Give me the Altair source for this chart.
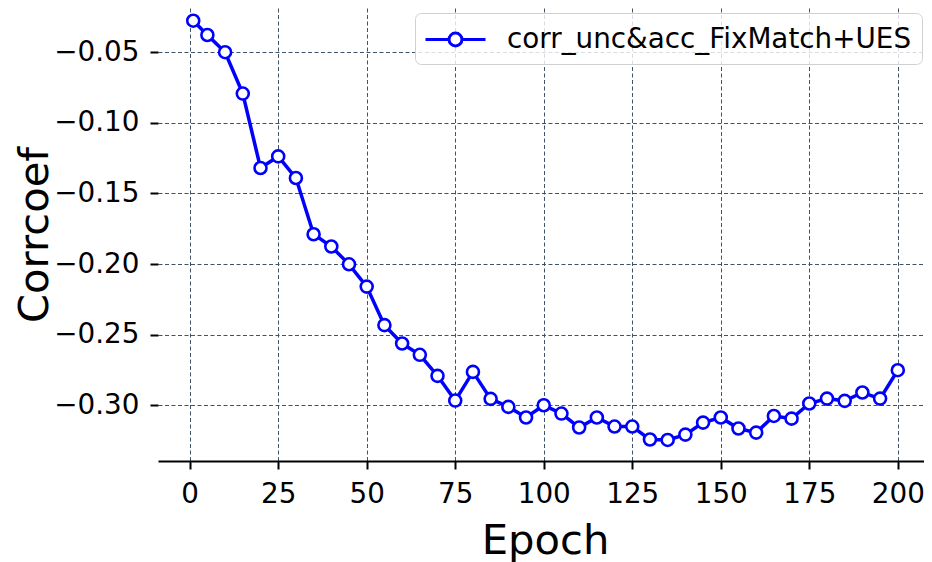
import altair as alt
import pandas as pd

epochs = [1, 5, 10, 15, 20, 25, 30, 35, 40, 45, 50, 55, 60, 65, 70, 75, 80, 85, 90, 95,
          100, 105, 110, 115, 120, 125, 130, 135, 140, 145, 150, 155, 160, 165, 170, 175,
          180, 185, 190, 195, 200]
corr = [-0.0277, -0.0378, -0.0500, -0.0793, -0.1320, -0.1238, -0.1391, -0.1789, -0.1876,
        -0.2002, -0.2160, -0.2433, -0.2563, -0.2643, -0.2792, -0.2967, -0.2764, -0.2955,
        -0.3012, -0.3087, -0.3000, -0.3059, -0.3158, -0.3087, -0.3151, -0.3151, -0.3243,
        -0.3246, -0.3208, -0.3123, -0.3087, -0.3165, -0.3194, -0.3076, -0.3095, -0.2988,
        -0.2953, -0.2969, -0.2910, -0.2953, -0.2752]
series_name = "corr_unc&acc_FixMatch+UES"
x_ticks = [0, 25, 50, 75, 100, 125, 150, 175, 200]
y_ticks = [-0.30, -0.25, -0.20, -0.15, -0.10, -0.05]

df = pd.DataFrame({"Epoch": epochs, "Corrcoef": corr, "series": [series_name] * len(epochs)})

FONT = "DejaVu Sans"
BLUE = "#0000ff"
GRID = "#415366"
LBL = 27.8
TTL = 41.7

x_enc = alt.X(
    "Epoch:Q",
    scale=alt.Scale(domain=[-8.95, 207.4], nice=False, zero=False),
    axis=alt.Axis(
        values=x_ticks, title="Epoch", grid=True, gridColor=GRID, gridDash=[4, 2.5],
        gridWidth=1, domain=True, domainColor="black", domainWidth=2,
        ticks=True, tickColor="black", tickSize=8, tickWidth=2,
        labelFont=FONT, labelFontSize=LBL, labelColor="black", labelPadding=11,
        titleFont=FONT, titleFontSize=TTL, titleFontWeight="normal", titleColor="black",
        titleBaseline="alphabetic", titleY=92, titleX=387, labelFlush=False,
    ),
)
y_enc = alt.Y(
    "Corrcoef:Q",
    scale=alt.Scale(domain=[-0.3395, -0.0187], nice=False, zero=False),
    axis=alt.Axis(
        values=y_ticks, title="Corrcoef", grid=True, gridColor=GRID, gridDash=[4, 2.5],
        gridWidth=1, domain=False, ticks=True, tickColor="black", tickSize=8, tickWidth=2,
        labelFont=FONT, labelFontSize=LBL, labelColor="black", labelPadding=11,
        labelExpr="replace(format(datum.value, '.2f'), '-', '\u2212')",
        titleFont=FONT, titleFontSize=TTL, titleFontWeight="normal", titleColor="black",
        titleBaseline="alphabetic", titleX=-111, titleAngle=270, labelFlush=False,
    ),
)

legend_path = ("M-1.067,0L0.503,0M1.363,0L2.933,0M1.363,0A0.43,0.43,0,1,1,0.503,0"
               "A0.43,0.43,0,1,1,1.363,0Z")

line = alt.Chart(df).mark_line(strokeWidth=3.5).encode(
    x=x_enc,
    y=y_enc,
    color=alt.Color(
        "series:N",
        scale=alt.Scale(domain=[series_name], range=[BLUE]),
        legend=alt.Legend(
            title=None, orient="none", legendX=257, legendY=5,
            fillColor="rgba(255,255,255,0.8)", strokeColor="#d0d0d0",
            cornerRadius=6, padding=10, labelFont=FONT, labelFontSize=LBL,
            labelColor="black", labelOffset=49, labelLimit=800, symbolType=legend_path,
            symbolSize=900, symbolStrokeWidth=3, symbolFillColor="white",
            symbolStrokeColor=BLUE, symbolOpacity=1,
        ),
    ),
)

points = alt.Chart(df).mark_point(
    shape="circle", size=144, strokeWidth=2.6, fill="white", filled=False, opacity=1,
    stroke=BLUE,
).encode(x="Epoch:Q", y="Corrcoef:Q")

chart = alt.layer(line, points).properties(
    width=766, height=453,
    autosize=alt.AutoSizeParams(type="none"),
    padding={"left": 150, "top": 0, "right": 0, "bottom": 101},
    background="white",
).configure_view(stroke=None)

chart.save("out.html", embed_options={"renderer": "svg", "actions": False})
